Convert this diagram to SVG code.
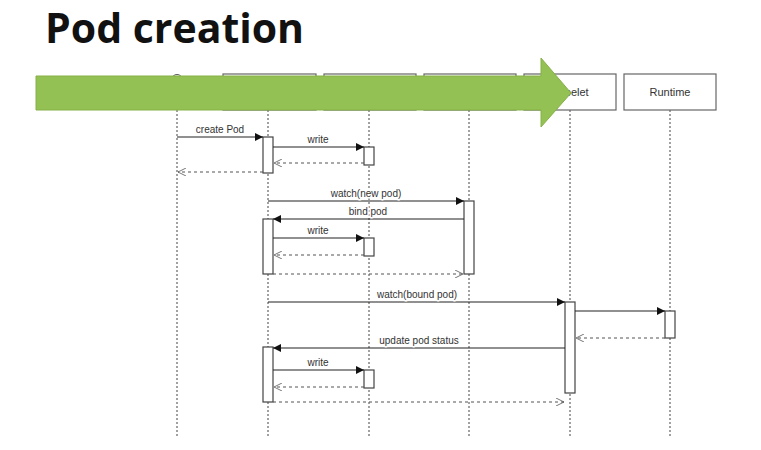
<svg xmlns="http://www.w3.org/2000/svg" width="761" height="450" viewBox="0 0 761 450">
  <style>
    .title { font-family: "Open Sans", "DejaVu Sans", sans-serif; font-weight: 700; font-size: 41px; fill: #111; }
    .box { fill: #fff; stroke: #666; stroke-width: 1.2; }
    .name { font-family: "Liberation Sans", Arial, sans-serif; font-size: 11px; fill: #333; text-anchor: middle; }
    .life { stroke: #555; stroke-width: 1.1; stroke-dasharray: 2 2; fill: none; }
    .act { fill: #fff; stroke: #444; stroke-width: 1.2; }
    .call { stroke: #222; stroke-width: 1.1; fill: none; marker-end: url(#solid); }
    .ret { stroke: #555; stroke-width: 1.1; stroke-dasharray: 3 3; fill: none; marker-end: url(#open); }
    .lbl { font-family: "Liberation Sans", Arial, sans-serif; font-size: 10px; fill: #333; text-anchor: middle;
           stroke: #fff; stroke-width: 3; paint-order: stroke; stroke-linejoin: round; }
  </style>
  <defs>
    <marker id="solid" viewBox="0 0 10 10" refX="10" refY="5" markerWidth="10" markerHeight="8" markerUnits="userSpaceOnUse" orient="auto">
      <path d="M0,0 L10,5 L0,10 Z" fill="#111"/>
    </marker>
    <marker id="open" viewBox="0 0 10 10" refX="10" refY="5" markerWidth="10" markerHeight="8" markerUnits="userSpaceOnUse" orient="auto">
      <path d="M0,0 L10,5 L0,10" fill="none" stroke="#555" stroke-width="1"/>
    </marker>
  </defs>

  <rect width="761" height="450" fill="#fff"/>

  <text class="title" x="45" y="43">Pod creation</text>

  <!-- lifelines -->
  <g id="lifelines">
    <line class="life" x1="177" y1="110" x2="177" y2="437"/>
    <line class="life" x1="268" y1="110" x2="268" y2="437"/>
    <line class="life" x1="369" y1="110" x2="369" y2="437"/>
    <line class="life" x1="469" y1="110" x2="469" y2="437"/>
    <line class="life" x1="570" y1="110" x2="570" y2="437"/>
    <line class="life" x1="670" y1="110" x2="670" y2="437"/>
  </g>

  <!-- participants -->
  <g id="client">
    <circle cx="177" cy="80" r="5.5" fill="#fff" stroke="#555" stroke-width="1"/>
  </g>
  <g id="apiserver"><rect class="box" x="223" y="74" width="93" height="36"/></g>
  <g id="etcd"><rect class="box" x="324" y="74" width="92" height="36"/></g>
  <g id="scheduler"><rect class="box" x="424" y="74" width="92" height="36"/></g>
  <g id="kubelet">
    <rect class="box" x="524" y="74" width="92" height="36"/>
    <text class="name" x="570" y="96">Kubelet</text>
  </g>
  <g id="runtime">
    <rect class="box" x="624" y="74" width="92" height="36"/>
    <text class="name" x="670" y="96">Runtime</text>
  </g>

  <!-- activation bars -->
  <g id="activations">
    <rect class="act" x="263" y="137" width="10" height="36"/>
    <rect class="act" x="364" y="147" width="10" height="18"/>
    <rect class="act" x="464" y="201" width="10" height="73"/>
    <rect class="act" x="263" y="219" width="10" height="55"/>
    <rect class="act" x="364" y="238" width="10" height="18"/>
    <rect class="act" x="565" y="302" width="10" height="91"/>
    <rect class="act" x="665" y="311" width="10" height="27"/>
    <rect class="act" x="263" y="347" width="10" height="55"/>
    <rect class="act" x="364" y="370" width="10" height="18"/>
  </g>

  <!-- messages -->
  <g id="connectors">
    <line class="call" x1="177" y1="137" x2="263" y2="137"/>
    <text class="lbl" x="220" y="133">create Pod</text>
    <line class="call" x1="273" y1="147" x2="364" y2="147"/>
    <text class="lbl" x="318" y="143">write</text>
    <line class="ret" x1="364" y1="163" x2="274" y2="163"/>
    <line class="ret" x1="263" y1="172" x2="178" y2="172"/>

    <line class="call" x1="268" y1="201" x2="464" y2="201"/>
    <text class="lbl" x="366" y="197">watch(new pod)</text>
    <line class="call" x1="464" y1="219" x2="273" y2="219"/>
    <text class="lbl" x="368" y="215">bind pod</text>
    <line class="call" x1="273" y1="238" x2="364" y2="238"/>
    <text class="lbl" x="318" y="234">write</text>
    <line class="ret" x1="364" y1="255" x2="274" y2="255"/>
    <line class="ret" x1="273" y1="274" x2="463" y2="274"/>

    <line class="call" x1="268" y1="302" x2="565" y2="302"/>
    <text class="lbl" x="417" y="298">watch(bound pod)</text>
    <line class="call" x1="575" y1="311" x2="665" y2="311"/>
    <line class="ret" x1="665" y1="338" x2="576" y2="338"/>
    <line class="call" x1="565" y1="348" x2="273" y2="348"/>
    <text class="lbl" x="419" y="344">update pod status</text>
    <line class="call" x1="273" y1="370" x2="364" y2="370"/>
    <text class="lbl" x="318" y="366">write</text>
    <line class="ret" x1="364" y1="387" x2="274" y2="387"/>
    <line class="ret" x1="273" y1="402" x2="564" y2="402"/>
  </g>

  <!-- big green progress arrow over the header -->
  <g id="progress-arrow">
    <path d="M36,76 H541 V58 L571,93 L541,127 V110 H36 Z" fill="#94c153" stroke="#86b046" stroke-width="1"/>
  </g>
</svg>
